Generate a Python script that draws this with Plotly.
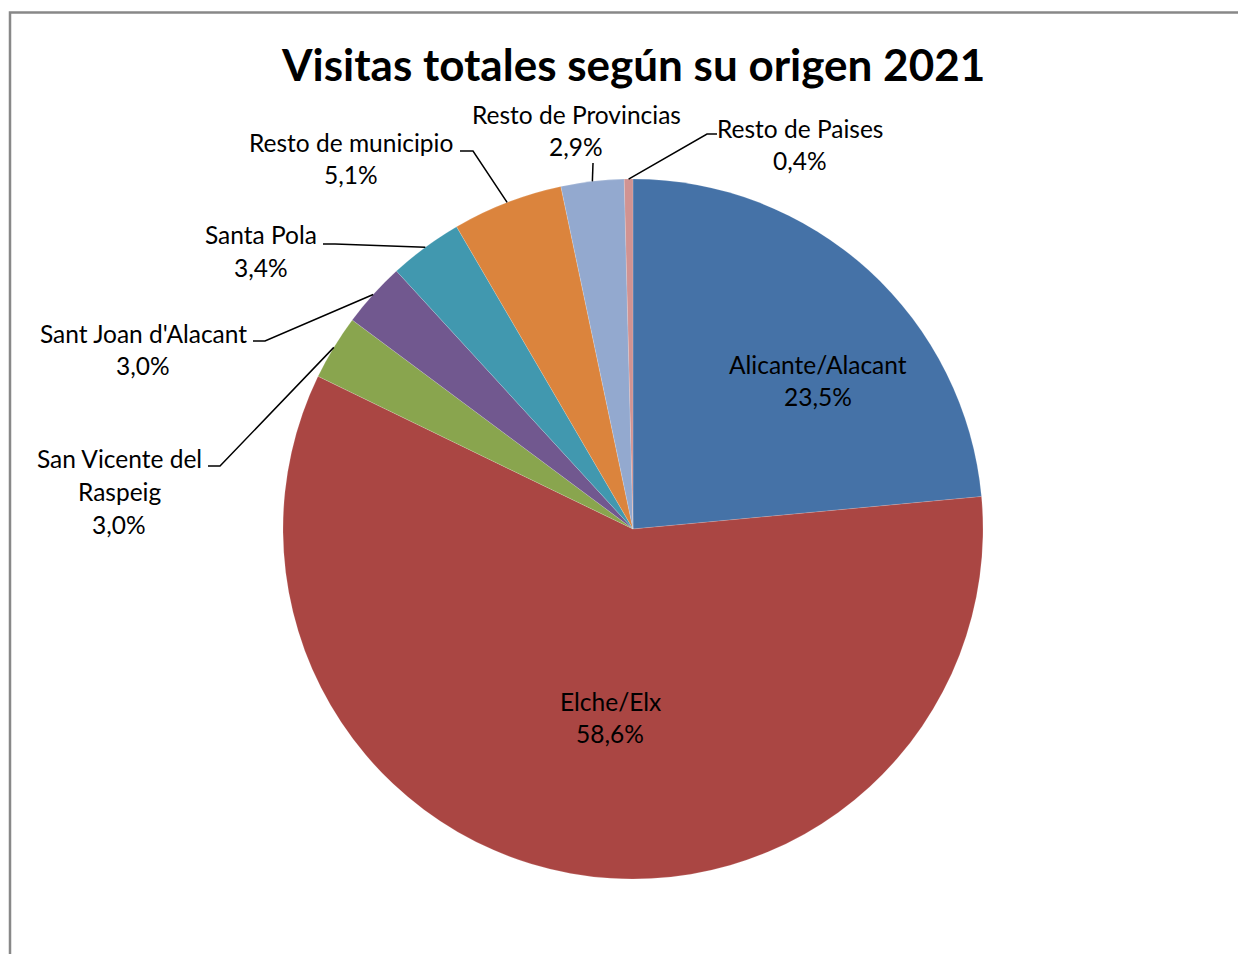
import math
import plotly.graph_objects as go

# ---- data ----
categories = ["Alicante/Alacant", "Elche/Elx", "San Vicente del Raspeig", "Sant Joan d'Alacant",
              "Santa Pola", "Resto de municipio", "Resto de Provincias", "Resto de Paises"]
label_lines = [["Alicante/Alacant"], ["Elche/Elx"], ["San Vicente del", "Raspeig"],
               ["Sant Joan d'Alacant"], ["Santa Pola"], ["Resto de municipio"],
               ["Resto de Provincias"], ["Resto de Paises"]]
values = [23.5, 58.6, 3.0, 3.0, 3.4, 5.1, 2.9, 0.4]
colors = ["#4572A7", "#AA4643", "#89A54E", "#71588F", "#4198AF", "#DB843D", "#93A9CF", "#D19392"]
title = "Visitas totales según su origen 2021"

# ---- layout constants (screen pixels; page body has an 8px margin) ----
OFF = 8
W, H = 1238, 946
CX, CY, R = 633, 529, 350
FONT = "Lato"
FS = 24.5
LINE_GAP = 32.5
label_pos = [(818, 364), (610, 701), (119, 459), (143, 333), (261, 235), (351, 142), (576, 114), (800, 128)]
leaders = {
    2: [(220, 466), (208, 466)],
    3: [(265, 341), (253, 341)],
    4: [(335, 244), (323, 244)],
    5: [(473, 151), (460, 151)],
    6: [(593, 163)],
    7: [(707, 134), (717, 134)],
}


def px(x):
    return (x - OFF) / W


def py(y):
    return 1 - (y - OFF) / H


fig = go.Figure()
fig.add_trace(go.Pie(
    labels=categories, values=values, sort=False, direction="clockwise", rotation=0,
    marker=dict(colors=colors, line=dict(color="rgba(255,255,255,0.3)", width=0.5)),
    textinfo="none", hoverinfo="label+percent", showlegend=False,
    domain=dict(x=[px(CX - R), px(CX + R)], y=[py(CY + R), py(CY - R)]),
))

annotations = []
for i, (lines, v) in enumerate(zip(label_lines, values)):
    x0, y0 = label_pos[i]
    texts = lines + [f"{v:.1f}".replace(".", ",") + "%"]
    for k, t in enumerate(texts):
        annotations.append(dict(
            x=px(x0), y=py(y0 + k * LINE_GAP), xref="paper", yref="paper",
            text=t, showarrow=False, xanchor="center", yanchor="middle",
            font=dict(family=FONT, size=FS, color="#000000"),
        ))

annotations.append(dict(
    x=px(633), y=py(64), xref="paper", yref="paper", text=f"<b>{title}</b>",
    showarrow=False, xanchor="center", yanchor="middle",
    font=dict(family=FONT, size=44, color="#000000"),
))

shapes = []
total = sum(values)
cum = 0.0
mids = []
for v in values:
    mids.append((cum + v / 2) / total * 2 * math.pi)
    cum += v
for i, pts in leaders.items():
    th = mids[i]
    sx, sy = CX + R * math.sin(th), CY - R * math.cos(th)
    path_pts = [(sx, sy)] + pts
    d = "M " + " L ".join(f"{px(x):.5f},{py(y):.5f}" for x, y in path_pts)
    shapes.append(dict(type="path", path=d, xref="paper", yref="paper",
                       line=dict(color="#000000", width=1.5)))

shapes.append(dict(type="path", xref="paper", yref="paper",
                   path=f"M {px(10)},{py(960)} L {px(10)},{py(12.5)} L {px(1250)},{py(12.5)}",
                   line=dict(color="#888888", width=2.5)))

fig.update_layout(
    width=W, height=H, margin=dict(l=0, r=0, t=0, b=0),
    paper_bgcolor="white", plot_bgcolor="white",
    annotations=annotations, shapes=shapes,
)
fig.write_html("out.html")
